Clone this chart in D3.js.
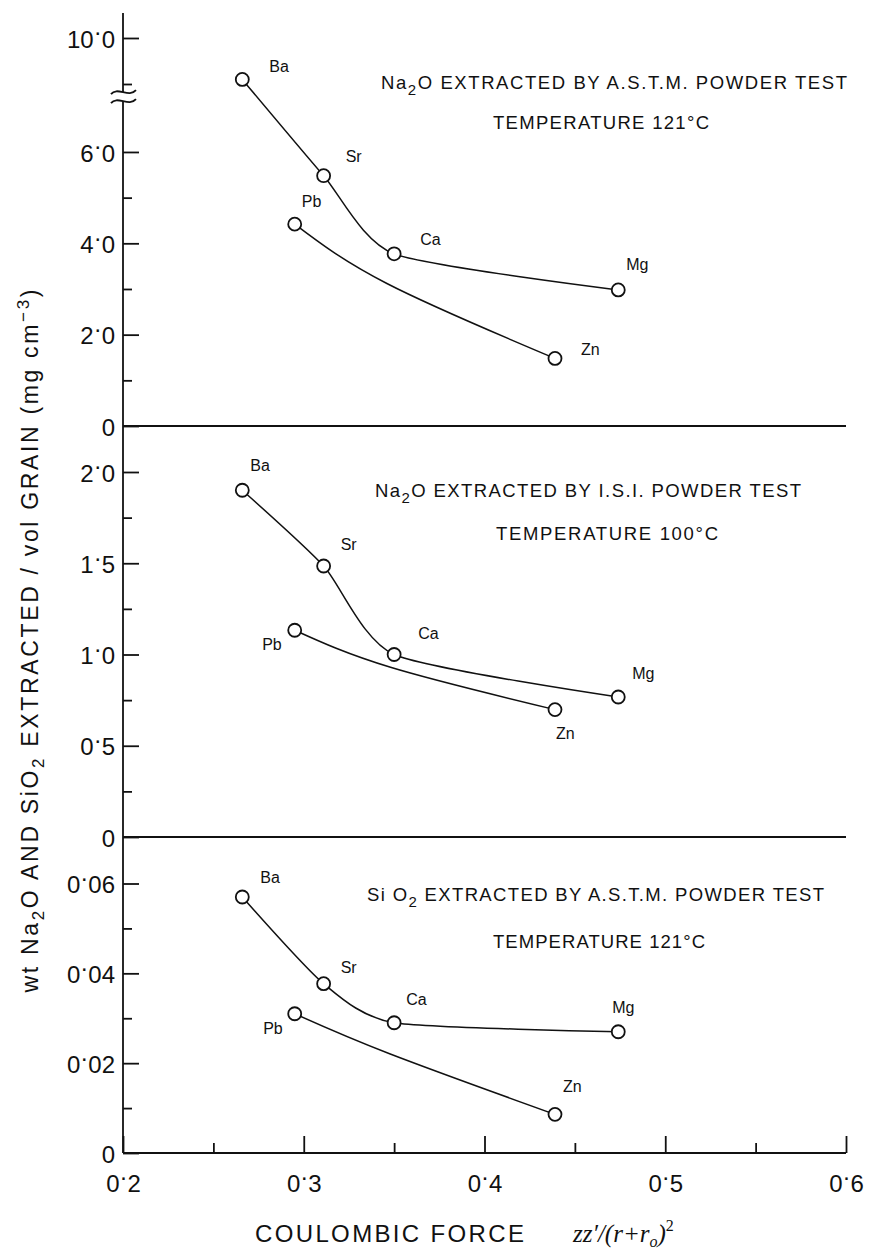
<!DOCTYPE html>
<html>
<head>
<meta charset="utf-8">
<script src="https://cdn.jsdelivr.net/npm/d3@7"></script>
<style>
  body { margin: 0; background: #fff; }
  svg { font-family: "Liberation Sans", Arial, sans-serif; }
</style>
</head>
<body>
<div id="chart"></div>
<script>
(function () {
  // ions and their coulombic force zz'/(r+r0)^2
  var ions = ['Ba', 'Sr', 'Ca', 'Mg', 'Pb', 'Zn'];
  var coulombicForce = [0.266, 0.311, 0.350, 0.474, 0.295, 0.439];
  var upperSeries = ['Ba', 'Sr', 'Ca', 'Mg'];
  var lowerSeries = ['Pb', 'Zn'];

  // mg cm-3 extracted, one array per panel (same order as ions)
  var na2oAstm = [9.1, 5.48, 3.77, 2.98, 4.42, 1.48];
  var na2oIsi = [1.90, 1.485, 1.00, 0.767, 1.133, 0.698];
  var sio2Astm = [0.0570, 0.0377, 0.0290, 0.0270, 0.0310, 0.0086];

  // one point read on the hand drawn Pb-Zn curve of each panel
  var pbZnBendX = [0.346, 0.348, 0.3475];
  var pbZnBendY = [3.12, 0.93, 0.0221];

  var xTicks = [0.2, 0.3, 0.4, 0.5, 0.6];
  var xTickLabels = ['0·2', '0·3', '0·4', '0·5', '0·6'];
  var xMinorTicks = [0.25, 0.35, 0.45, 0.55];

  var astmTicks = [0, 2, 4, 6, 10];
  var astmTickLabels = ['0', '2·0', '4·0', '6·0', '10·0'];
  var astmMinorTicks = [1, 3, 5, 9];

  var isiTicks = [0, 0.5, 1, 1.5, 2];
  var isiTickLabels = ['0', '0·5', '1·0', '1·5', '2·0'];
  var isiMinorTicks = [0.25, 0.75, 1.25, 1.75];

  var sioTicks = [0, 0.02, 0.04, 0.06];
  var sioTickLabels = ['0', '0·02', '0·04', '0·06'];
  var sioMinorTicks = [0.01, 0.03, 0.05];

  var width = 870, height = 1251;
  var axisX = 123;

  var x = d3.scaleLinear()
      .domain([0.2, 0.6])
      .range([axisX, 846]);

  var panels = [
    {
      values: na2oAstm,
      // broken axis: 7 .. 9 squeezed out
      y: d3.scaleLinear().domain([0, 7, 9, 10]).range([426, 106.3, 84, 38]),
      ticks: astmTicks, tickLabels: astmTickLabels, minor: astmMinorTicks,
      line1: {sub: ['Na', '2', 'O  EXTRACTED  BY  A.S.T.M.  POWDER  TEST'], x: 381, y: 89, len: 466},
      line2: {text: 'TEMPERATURE   121°C', x: 493, y: 129, len: 216},
      labels: {Ba: [27, -7], Sr: [22, -14], Ca: [26, -9], Mg: [8, -20], Pb: [7, -17], Zn: [26, -3]}
    },
    {
      values: na2oIsi,
      y: d3.scaleLinear().domain([0, 2]).range([837, 472]),
      ticks: isiTicks, tickLabels: isiTickLabels, minor: isiMinorTicks,
      line1: {sub: ['Na', '2', 'O  EXTRACTED  BY  I.S.I.  POWDER  TEST'], x: 375, y: 497, len: 426},
      line2: {text: 'TEMPERATURE   100°C', x: 496, y: 540, len: 222},
      labels: {Ba: [8, -19], Sr: [17, -16], Ca: [24, -16], Mg: [14, -18], Pb: [-13, 20, 'end'], Zn: [1, 29]}
    },
    {
      values: sio2Astm,
      y: d3.scaleLinear().domain([0, 0.06]).range([1153, 883.5]),
      ticks: sioTicks, tickLabels: sioTickLabels, minor: sioMinorTicks,
      line1: {sub: ['Si O', '2', ' EXTRACTED  BY  A.S.T.M.  POWDER  TEST'], x: 367, y: 901, len: 457},
      line2: {text: 'TEMPERATURE   121°C', x: 493, y: 948, len: 212},
      labels: {Ba: [18, -14], Sr: [17, -11], Ca: [12, -18], Mg: [-6, -19], Pb: [-12, 20, 'end'], Zn: [8, -22]}
    }
  ];

  var svg = d3.select('#chart')
    .append('svg')
    .attr('width', width)
    .attr('height', height);

  function raiseDot(sel) {
    sel.each(function () {
      var t = d3.select(this), s = t.text(), parts = s.split('·');
      if (parts.length < 2) return;
      t.text(null);
      t.append('tspan').text(parts[0]);
      t.append('tspan').attr('dy', '-0.3em').text('·');
      t.append('tspan').attr('dy', '0.3em').text(parts[1]);
    });
  }

  function styleAxis(g) {
    g.attr('font-family', null).attr('font-size', null);
    g.select('.domain').remove();
    g.selectAll('.tick line').attr('stroke', '#111').attr('stroke-width', 1.8);
  }

  panels.forEach(function (p, pi) {
    var g = svg.append('g').attr('class', 'panel');

    var byIon = {};
    ions.forEach(function (ion, i) {
      byIon[ion] = {ion: ion, x: coulombicForce[i], v: p.values[i]};
    });

    // y axis ticks (inside), labels outside
    g.append('g')
      .attr('transform', 'translate(' + axisX + ',0)')
      .call(d3.axisLeft(p.y)
        .tickValues(p.ticks)
        .tickFormat(function (d, i) { return p.tickLabels[i]; })
        .tickSizeInner(-16).tickSizeOuter(0).tickPadding(8))
      .call(styleAxis)
      .selectAll('text')
      .attr('font-size', 24)
      .attr('fill', '#111')
      .attr('dy', '0.38em')
      .call(raiseDot);

    g.append('g')
      .attr('transform', 'translate(' + axisX + ',0)')
      .call(d3.axisLeft(p.y)
        .tickValues(p.minor)
        .tickFormat('')
        .tickSizeInner(-9).tickSizeOuter(0))
      .call(styleAxis);

    // zero line across the panel
    if (pi < 2) {
      g.append('line')
        .attr('x1', axisX).attr('x2', x(0.6))
        .attr('y1', p.y(0)).attr('y2', p.y(0))
        .attr('stroke', '#111').attr('stroke-width', 1.8);
    }

    var line = d3.line()
      .x(function (d) { return x(d.x); })
      .y(function (d) { return p.y(d.v); });

    g.append('path')
      .datum(upperSeries.map(function (k) { return byIon[k]; }))
      .attr('d', line.curve(d3.curveCardinal.tension(0.35)))
      .attr('fill', 'none').attr('stroke', '#111').attr('stroke-width', 1.5);

    var lower = [byIon[lowerSeries[0]], {x: pbZnBendX[pi], v: pbZnBendY[pi]}, byIon[lowerSeries[1]]];
    g.append('path')
      .datum(lower)
      .attr('d', line.curve(d3.curveNatural))
      .attr('fill', 'none').attr('stroke', '#111').attr('stroke-width', 1.5);

    var pts = ions.map(function (k) { return byIon[k]; });

    g.selectAll('circle')
      .data(pts)
      .enter().append('circle')
      .attr('cx', function (d) { return x(d.x); })
      .attr('cy', function (d) { return p.y(d.v); })
      .attr('r', 6.5)
      .attr('fill', '#fff')
      .attr('stroke', '#111')
      .attr('stroke-width', 1.8);

    g.selectAll('text.ion')
      .data(pts)
      .enter().append('text')
      .attr('class', 'ion')
      .attr('x', function (d) { return x(d.x) + p.labels[d.ion][0]; })
      .attr('y', function (d) { return p.y(d.v) + p.labels[d.ion][1]; })
      .attr('text-anchor', function (d) { return p.labels[d.ion][2] || 'start'; })
      .attr('font-size', 16)
      .attr('fill', '#111')
      .text(function (d) { return d.ion; });

    // panel captions
    var t1 = g.append('text')
      .attr('x', p.line1.x).attr('y', p.line1.y)
      .attr('font-size', 18.5).attr('fill', '#111')
      .attr('textLength', p.line1.len).attr('lengthAdjust', 'spacing');
    t1.append('tspan').text(p.line1.sub[0]);
    t1.append('tspan').attr('dy', 6).attr('font-size', 15).text(p.line1.sub[1]);
    t1.append('tspan').attr('dy', -6).text(p.line1.sub[2]);

    g.append('text')
      .attr('x', p.line2.x).attr('y', p.line2.y)
      .attr('font-size', 18.5).attr('fill', '#111')
      .attr('textLength', p.line2.len).attr('lengthAdjust', 'spacing')
      .text(p.line2.text);
  });

  // y axis line and its break
  svg.append('line')
    .attr('x1', axisX).attr('x2', axisX)
    .attr('y1', 13).attr('y2', 1153)
    .attr('stroke', '#111').attr('stroke-width', 1.8);

  var yb = panels[0].y(8);
  svg.append('path')
    .attr('d', 'M111,' + (yb - 1) + ' C117,' + (yb - 9) + ' 129,' + (yb + 3) + ' 136,' + (yb - 5) +
      ' L136,' + (yb + 4) + ' C129,' + (yb + 12) + ' 117,' + (yb) + ' 111,' + (yb + 8) + 'Z')
    .attr('fill', '#fff').attr('stroke', 'none');
  [-1, 8].forEach(function (o) {
    svg.append('path')
      .attr('d', 'M111,' + (yb + o) + ' C117,' + (yb + o - 8) + ' 129,' + (yb + o + 4) + ' 136,' + (yb + o - 4))
      .attr('fill', 'none').attr('stroke', '#111').attr('stroke-width', 1.8);
  });

  // x axis at the foot of the bottom panel
  var yBase = panels[2].y(0);
  svg.append('line')
    .attr('x1', axisX).attr('x2', x(0.6))
    .attr('y1', yBase).attr('y2', yBase)
    .attr('stroke', '#111').attr('stroke-width', 1.8);

  svg.append('g')
    .attr('transform', 'translate(0,' + yBase + ')')
    .call(d3.axisBottom(x)
      .tickValues(xTicks)
      .tickFormat(function (d, i) { return xTickLabels[i]; })
      .tickSizeInner(-17).tickSizeOuter(0).tickPadding(22))
    .call(styleAxis)
    .selectAll('text')
    .attr('font-size', 24)
    .attr('fill', '#111')
    .call(raiseDot);

  svg.append('g')
    .attr('transform', 'translate(0,' + yBase + ')')
    .call(d3.axisBottom(x)
      .tickValues(xMinorTicks)
      .tickFormat('')
      .tickSizeInner(-10).tickSizeOuter(0))
    .call(styleAxis);

  // axis titles
  svg.append('text')
    .attr('x', 255).attr('y', 1242)
    .attr('font-size', 24).attr('fill', '#111')
    .attr('textLength', 269).attr('lengthAdjust', 'spacing')
    .text('COULOMBIC  FORCE');

  var xt = svg.append('text')
    .attr('x', 573).attr('y', 1242)
    .attr('font-family', '"Liberation Serif", serif')
    .attr('font-style', 'italic')
    .attr('font-size', 25).attr('fill', '#111');
  xt.append('tspan').text('zz′/(r+r');
  xt.append('tspan').attr('dy', 5).attr('font-size', 16).text('o');
  xt.append('tspan').attr('dy', -5).text(')');
  xt.append('tspan').attr('dy', -11).attr('font-size', 16).attr('font-style', 'normal').text('2');

  var yt = svg.append('text')
    .attr('transform', 'translate(38,641) rotate(-90)')
    .attr('text-anchor', 'middle')
    .attr('font-size', 23).attr('fill', '#111')
    .attr('textLength', 703).attr('lengthAdjust', 'spacing');
  yt.append('tspan').text('wt Na');
  yt.append('tspan').attr('dy', 6).attr('font-size', 17).text('2');
  yt.append('tspan').attr('dy', -6).text('O AND SiO');
  yt.append('tspan').attr('dy', 6).attr('font-size', 17).text('2');
  yt.append('tspan').attr('dy', -6).text(' EXTRACTED / vol GRAIN  (mg cm');
  yt.append('tspan').attr('dy', -9).attr('font-size', 17).text('−3');
  yt.append('tspan').attr('dy', 9).text(')');
})();
</script>
</body>
</html>
